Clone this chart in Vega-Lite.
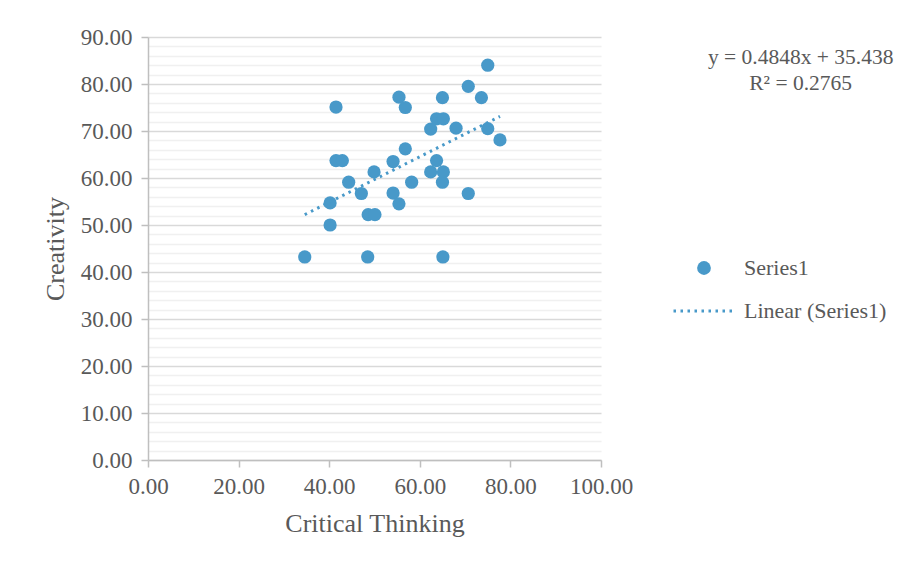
{
  "$schema": "https://vega.github.io/schema/vega-lite/v6.json",
  "width": 453,
  "height": 423,
  "autosize": {"type": "none"},
  "padding": {"left": 148, "top": 37, "right": 302, "bottom": 106},
  "background": "white",
  "config": {"view": {"stroke": null}, "font": "Liberation Serif"},
  "datasets": {
    "points": [
      {"ct": 34.6, "cr": 43.2, "series": "Series1"},
      {"ct": 41.5, "cr": 75.1, "series": "Series1"},
      {"ct": 40.2, "cr": 50.0, "series": "Series1"},
      {"ct": 40.2, "cr": 54.7, "series": "Series1"},
      {"ct": 41.5, "cr": 63.7, "series": "Series1"},
      {"ct": 42.9, "cr": 63.7, "series": "Series1"},
      {"ct": 44.3, "cr": 59.1, "series": "Series1"},
      {"ct": 47.1, "cr": 56.7, "series": "Series1"},
      {"ct": 48.6, "cr": 52.2, "series": "Series1"},
      {"ct": 50.1, "cr": 52.2, "series": "Series1"},
      {"ct": 48.5, "cr": 43.2, "series": "Series1"},
      {"ct": 49.9, "cr": 61.3, "series": "Series1"},
      {"ct": 54.1, "cr": 63.5, "series": "Series1"},
      {"ct": 56.8, "cr": 66.2, "series": "Series1"},
      {"ct": 54.1, "cr": 56.8, "series": "Series1"},
      {"ct": 55.4, "cr": 54.5, "series": "Series1"},
      {"ct": 55.4, "cr": 77.2, "series": "Series1"},
      {"ct": 56.8, "cr": 75.0, "series": "Series1"},
      {"ct": 58.2, "cr": 59.1, "series": "Series1"},
      {"ct": 62.4, "cr": 70.4, "series": "Series1"},
      {"ct": 63.7, "cr": 72.6, "series": "Series1"},
      {"ct": 65.2, "cr": 72.6, "series": "Series1"},
      {"ct": 65.0, "cr": 77.1, "series": "Series1"},
      {"ct": 62.4, "cr": 61.3, "series": "Series1"},
      {"ct": 63.7, "cr": 63.7, "series": "Series1"},
      {"ct": 65.2, "cr": 61.3, "series": "Series1"},
      {"ct": 65.0, "cr": 59.1, "series": "Series1"},
      {"ct": 65.1, "cr": 43.2, "series": "Series1"},
      {"ct": 68.0, "cr": 70.6, "series": "Series1"},
      {"ct": 70.7, "cr": 56.7, "series": "Series1"},
      {"ct": 70.7, "cr": 79.5, "series": "Series1"},
      {"ct": 73.6, "cr": 77.1, "series": "Series1"},
      {"ct": 75.0, "cr": 84.0, "series": "Series1"},
      {"ct": 75.0, "cr": 70.5, "series": "Series1"},
      {"ct": 77.7, "cr": 68.1, "series": "Series1"}
    ],
    "trend": [
      {"ct": 34.6, "cr": 52.21, "series": "Linear (Series1)"},
      {"ct": 77.7, "cr": 73.11, "series": "Linear (Series1)"}
    ]
  },
  "layer": [
    {
      "data": {"name": "points"},
      "mark": {"type": "point", "filled": true, "size": 175, "opacity": 1},
      "encoding": {
        "x": {
          "field": "ct", "type": "quantitative",
          "scale": {"domain": [0, 100], "nice": false, "zero": false},
          "axis": {
            "values": [0, 20, 40, 60, 80, 100], "format": ".2f", "grid": false,
            "domainColor": "#bfbfbf", "domainWidth": 1.5,
            "tickColor": "#bfbfbf", "tickWidth": 1.5, "tickSize": 7,
            "labelFontSize": 23, "labelColor": "#595959", "labelPadding": 8,
            "labelFlush": false, "labelOverlap": false,
            "title": "Critical Thinking", "titleFontSize": 26, "titleFontWeight": "normal",
            "titleColor": "#595959", "titlePadding": 12
          }
        },
        "y": {
          "field": "cr", "type": "quantitative",
          "scale": {"domain": [0, 90], "nice": false, "zero": false},
          "axis": {
            "orient": "left",
            "values": [2, 4, 6, 8, 12, 14, 16, 18, 22, 24, 26, 28, 32, 34, 36, 38, 42, 44, 46, 48, 52, 54, 56, 58, 62, 64, 66, 68, 72, 74, 76, 78, 82, 84, 86, 88],
            "grid": true, "gridColor": "#f0f0f0", "gridWidth": 1.5,
            "domain": false, "ticks": false, "labels": false, "title": null
          }
        },
        "color": {
          "field": "series", "type": "nominal",
          "scale": {"domain": ["Series1"], "range": ["#4899C9"]},
          "legend": {
            "orient": "none", "legendX": 545, "legendY": 220, "title": null,
            "labelFontSize": 22, "labelColor": "#595959", "labelFont": "Liberation Serif",
            "labelOffset": 29, "symbolSize": 190, "symbolType": "circle", "symbolOpacity": 1
          }
        }
      }
    },
    {
      "data": {"name": "trend"},
      "mark": {"type": "line", "color": "#4899C9", "strokeWidth": 3, "strokeCap": "butt"},
      "encoding": {
        "x": {"field": "ct", "type": "quantitative"},
        "y": {
          "field": "cr", "type": "quantitative",
          "axis": {
            "orient": "left",
            "values": [0, 10, 20, 30, 40, 50, 60, 70, 80, 90], "format": ".2f",
            "grid": true, "gridColor": "#d9d9d9", "gridWidth": 1.5,
            "domainColor": "#bfbfbf", "domainWidth": 1.5,
            "tickColor": "#bfbfbf", "tickWidth": 1.5, "tickSize": 7,
            "labelFontSize": 23, "labelColor": "#595959", "labelPadding": 9,
            "labelFlush": false, "labelOverlap": false,
            "title": "Creativity", "titleFontSize": 26, "titleFontWeight": "normal",
            "titleColor": "#595959", "titlePadding": 12
          }
        },
        "strokeDash": {
          "field": "series", "type": "nominal",
          "scale": {"domain": ["Linear (Series1)"], "range": [[2.5, 4.5]]},
          "legend": {
            "orient": "none", "legendX": 524, "legendY": 241, "title": null,
            "labelFontSize": 22, "labelColor": "#595959", "labelFont": "Liberation Serif",
            "labelOffset": 6, "symbolSize": 3969, "symbolType": "stroke",
            "symbolStrokeColor": "#4899C9", "symbolStrokeWidth": 3
          }
        }
      }
    },
    {
      "data": {"values": [{}]},
      "mark": {"type": "text", "fontSize": 21.5, "color": "#595959", "font": "Liberation Serif", "align": "center", "baseline": "middle"},
      "encoding": {
        "x": {"datum": 144.07, "type": "quantitative"},
        "y": {"datum": 85.6, "type": "quantitative", "axis": null},
        "text": {"value": "y = 0.4848x + 35.438"}
      }
    },
    {
      "data": {"values": [{}]},
      "mark": {"type": "text", "fontSize": 21.5, "color": "#595959", "font": "Liberation Serif", "align": "center", "baseline": "middle"},
      "encoding": {
        "x": {"datum": 144.07, "type": "quantitative"},
        "y": {"datum": 80.1, "type": "quantitative", "axis": null},
        "text": {"value": "R² = 0.2765"}
      }
    }
  ],
  "resolve": {"axis": {"y": "independent"}}
}
